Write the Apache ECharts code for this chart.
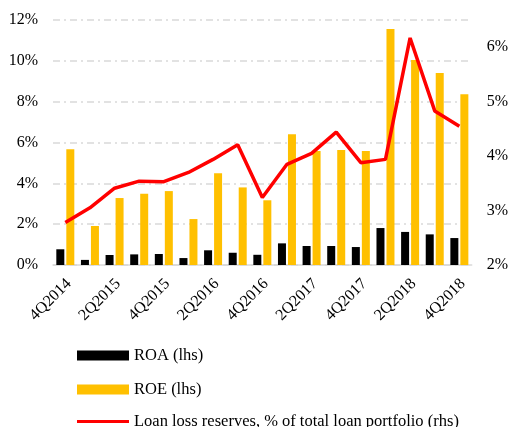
<!DOCTYPE html>
<html><head><meta charset="utf-8">
<script src="https://cdn.jsdelivr.net/npm/echarts@6/dist/echarts.min.js"></script>
<style>html,body{margin:0;padding:0;background:#fff}#c{width:511px;height:427px}</style>
</head><body><div id="c"></div>
<script>
const categories = ['4Q2014','1Q2015','2Q2015','3Q2015','4Q2015','1Q2016','2Q2016','3Q2016','4Q2016','1Q2017','2Q2017','3Q2017','4Q2017','1Q2018','2Q2018','3Q2018','4Q2018'];
const roa = [0.77,0.25,0.49,0.52,0.54,0.34,0.72,0.60,0.50,1.06,0.93,0.93,0.88,1.81,1.62,1.50,1.32];
const roe = [5.67,1.91,3.28,3.49,3.62,2.25,4.50,3.80,3.17,6.40,5.58,5.63,5.58,11.56,10.04,9.40,8.36];
const llr = [2.78,3.05,3.41,3.54,3.53,3.70,3.94,4.21,3.24,3.85,4.05,4.44,3.88,3.94,6.17,4.83,4.55];
const leftTicks = {min:0,max:12,interval:2};
const rightTicks = {min:2,max:6.5,interval:1};
const names = ['ROA (lhs)','ROE (lhs)','Loan loss reserves, % of total loan portfolio (rhs)'];
const font = 'Liberation Serif';
const legendTops = [342,376,408];
const icons = ['rect','rect','path://M0,0H52V3H0Z'];
const chart = echarts.init(document.getElementById('c'));
chart.setOption({
  animation:false,
  textStyle:{fontFamily:font},
  grid:{left:53,right:38,top:20,bottom:162},
  legend:names.map((n,i)=>({orient:'vertical',left:72,top:legendTops[i],itemWidth:52,itemHeight:10,
    textStyle:{fontFamily:font,fontSize:16.5,color:'#000'},selectedMode:false,
    data:[{name:n,icon:icons[i]}]})),
  xAxis:{type:'category',data:categories,
    axisLine:{lineStyle:{color:'#d9d9d9',width:1.5}},axisTick:{show:false},
    axisLabel:{interval:1,rotate:45,fontSize:16,color:'#000',fontFamily:font,margin:20,padding:[0,-5,0,0]}},
  yAxis:[
    {type:'value',min:leftTicks.min,max:leftTicks.max,interval:leftTicks.interval,
     axisLabel:{formatter:'{value}%',fontSize:16,color:'#000',fontFamily:font,margin:15},
     axisLine:{show:false},axisTick:{show:false},
     splitLine:{lineStyle:{color:'#d9d9d9',width:1.5,type:[7,4,2,4]}}},
    {type:'value',min:rightTicks.min,max:rightTicks.max,interval:rightTicks.interval,
     axisLabel:{formatter:'{value}%',fontSize:16,color:'#000',fontFamily:font,margin:15,showMaxLabel:false},
     axisLine:{show:false},axisTick:{show:false},splitLine:{show:false}}
  ],
  series:[
    {name:names[0],type:'bar',data:roa,barWidth:8,barGap:'25%',itemStyle:{color:'#000000'}},
    {name:names[1],type:'bar',data:roe,barWidth:8,barGap:'25%',itemStyle:{color:'#ffc000'}},
    {name:names[2],type:'line',yAxisIndex:1,data:llr,symbol:'none',
     lineStyle:{color:'#ff0000',width:3.5},itemStyle:{color:'#ff0000'}}
  ]
});
</script></body></html>
